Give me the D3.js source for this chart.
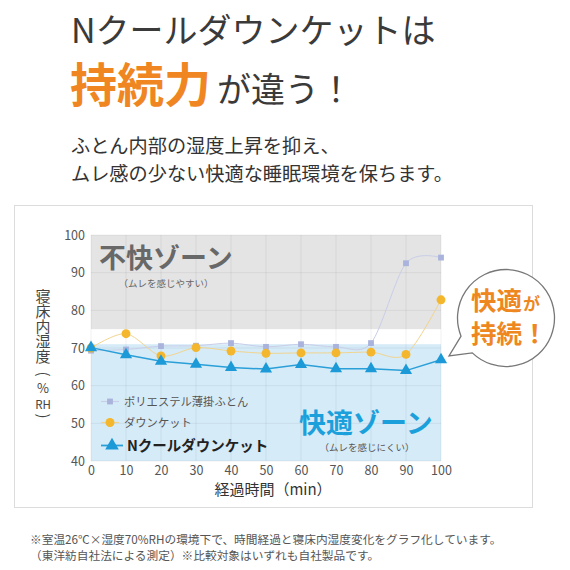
<!DOCTYPE html>
<html lang="ja">
  <head>
    <meta charset="UTF-8" />
    <title>Nクールダウンケット - 寝床内湿度</title>
    <script src="https://cdn.jsdelivr.net/npm/d3@7"></script>
    <style>
      body { margin: 0; background: #fff; }
      svg text { font-family: "Noto Sans CJK JP", "Noto Sans", sans-serif; }
      .vtext { writing-mode: vertical-rl; text-orientation: upright; }
    </style>
  </head>
  <body>
    <svg id="chart" width="570" height="570"></svg>

    <script>
      // data
      var minutes = [0, 10, 20, 30, 40, 50, 60, 70, 80, 90, 100];
      var polyester = [69.3, 69.6, 70.5, 70.6, 71.3, 70.3, 71.0, 70.3, 71.3, 92.5, 94.0];
      var downKet = [70.0, 73.8, 67.9, 70.1, 69.2, 68.6, 68.7, 68.7, 68.9, 68.3, 82.8];
      var nCool = [70.1, 68.2, 66.5, 65.7, 64.8, 64.4, 65.6, 64.5, 64.5, 64.0, 66.9];
      var yTicks = [40, 50, 60, 70, 80, 90, 100];
      var xTicks = [0, 10, 20, 30, 40, 50, 60, 70, 80, 90, 100];
      var discomfortZone = [75, 100];
      var comfortZone = [40, 71];
      var seriesNames = ["ポリエステル薄掛ふとん", "ダウンケット", "Nクールダウンケット"];
      var yTitleWord = "寝床内湿度";
      var yTitleUnit = ["%", "RH"];

      var svg = d3.select("#chart");

      var x = d3.scaleLinear().domain([0, 100]).range([91, 441]);
      var y = d3.scaleLinear().domain([40, 100]).range([461, 235]);

      // headings
      svg.append("text").attr("x", 71).attr("y", 43)
        .attr("font-size", 34).attr("fill", "#3a3a3a")
        .text("Nクールダウンケットは");
      svg.append("text").attr("x", 70).attr("y", 102)
        .attr("font-size", 47).attr("font-weight", 700).attr("fill", "#ef8622")
        .text("持続力");
      svg.append("text").attr("x", 217).attr("y", 102)
        .attr("font-size", 34).attr("fill", "#3a3a3a")
        .text("が違う！");
      svg.append("text").attr("x", 71).attr("y", 153)
        .attr("font-size", 19.2).attr("fill", "#333")
        .text("ふとん内部の湿度上昇を抑え、");
      svg.append("text").attr("x", 71).attr("y", 181)
        .attr("font-size", 19.2).attr("fill", "#333")
        .text("ムレ感の少ない快適な睡眠環境を保ちます。");

      // card
      svg.append("rect").attr("x", 14.5).attr("y", 205.5)
        .attr("width", 518).attr("height", 302)
        .attr("fill", "#fff").attr("stroke", "#dcdcdc");

      // zones
      svg.append("rect")
        .attr("x", x(0)).attr("width", x(100) - x(0))
        .attr("y", y(discomfortZone[1]))
        .attr("height", y(discomfortZone[0]) - y(discomfortZone[1]))
        .attr("fill", "#e4e4e4");
      svg.append("rect")
        .attr("x", x(0)).attr("width", x(100) - x(0))
        .attr("y", y(comfortZone[1]))
        .attr("height", y(comfortZone[0]) - y(comfortZone[1]))
        .attr("fill", "#d5ebf8");

      // grid
      var grid = svg.append("g").attr("stroke", "rgba(0,0,0,0.06)");
      grid.selectAll(".gx").data(xTicks).enter().append("line")
        .attr("x1", d => x(d)).attr("x2", d => x(d))
        .attr("y1", y(100)).attr("y2", y(40));
      grid.selectAll(".gy").data(yTicks).enter().append("line")
        .attr("x1", x(0)).attr("x2", x(100))
        .attr("y1", d => y(d)).attr("y2", d => y(d));

      // axes
      var yAxis = svg.append("g").attr("transform", "translate(" + (x(0) - 6) + ",0)")
        .call(d3.axisLeft(y).tickValues(yTicks).tickSize(0).tickPadding(0));
      var xAxis = svg.append("g").attr("transform", "translate(0," + (y(40) + 2) + ")")
        .call(d3.axisBottom(x).tickValues(xTicks).tickSize(0).tickPadding(0));
      [yAxis, xAxis].forEach(function (ax) {
        ax.select(".domain").remove();
        ax.selectAll("text")
          .attr("font-family", "'Noto Sans', sans-serif")
          .attr("font-size", 12.5).attr("fill", "#555");
      });
      xAxis.selectAll("text").attr("dy", "0.95em");

      // axis titles
      svg.append("text").attr("x", 273).attr("y", 495)
        .attr("text-anchor", "middle").attr("font-size", 15).attr("fill", "#333")
        .text("経過時間（min）");
      // vertical y title, parens turned sideways as in vertical writing
      svg.append("text").attr("class", "vtext").attr("x", 43).attr("y", 289)
        .attr("font-size", 15).attr("fill", "#444").text(yTitleWord);
      svg.append("text").attr("transform", "translate(43,374) rotate(90)")
        .attr("text-anchor", "middle").attr("dy", "0.33em")
        .attr("font-family", "'Noto Sans', sans-serif")
        .attr("font-size", 15).attr("fill", "#444").text("(");
      svg.append("text").attr("x", 43).attr("y", 393)
        .attr("text-anchor", "middle").attr("font-size", 13).attr("fill", "#444")
        .attr("font-family", "'Noto Sans', sans-serif").text(yTitleUnit[0]);
      svg.append("text").attr("x", 43).attr("y", 409)
        .attr("text-anchor", "middle").attr("font-size", 11.5).attr("fill", "#444")
        .attr("font-family", "'Noto Sans', sans-serif").text(yTitleUnit[1]);
      svg.append("text").attr("transform", "translate(43,416) rotate(90)")
        .attr("text-anchor", "middle").attr("dy", "0.33em")
        .attr("font-family", "'Noto Sans', sans-serif")
        .attr("font-size", 15).attr("fill", "#444").text(")");

      // zone labels
      svg.append("text").attr("x", 99).attr("y", 268)
        .attr("font-size", 27).attr("font-weight", 700).attr("fill", "#686868")
        .text("不快ゾーン");
      svg.append("text").attr("x", 166).attr("y", 286.5)
        .attr("text-anchor", "middle").attr("font-size", 9.5).attr("fill", "#666")
        .text("（ムレを感じやすい）");
      svg.append("text").attr("x", 299).attr("y", 433)
        .attr("font-size", 27).attr("font-weight", 700).attr("fill", "#1ca0dc")
        .text("快適ゾーン");
      svg.append("text").attr("x", 367).attr("y", 450.5)
        .attr("text-anchor", "middle").attr("font-size", 9.5).attr("fill", "#555")
        .text("（ムレを感じにくい）");

      // series
      var series = [
        { values: polyester, line: "#c9cee8", mark: "#a9b3db", symbol: d3.symbolSquare, size: 34,
          width: 1, curve: d3.curveCardinal.tension(0.1) },
        { values: downKet, line: "#f2d48e", mark: "#f4b62c", symbol: d3.symbolCircle, size: 62,
          width: 1, curve: d3.curveCardinal.tension(0.1) },
        { values: nCool, line: "#2a9fd8", mark: "#1b9ad7", symbol: d3.symbolTriangle, size: 64,
          width: 1.5, curve: d3.curveLinear }
      ];

      series.forEach(function (s) {
        var line = d3.line()
          .x((d, i) => x(minutes[i]))
          .y(d => y(d))
          .curve(s.curve);
        svg.append("path").datum(s.values)
          .attr("d", line).attr("fill", "none")
          .attr("stroke", s.line).attr("stroke-width", s.width);
      });
      series.forEach(function (s) {
        svg.append("g").selectAll("path").data(s.values).enter().append("path")
          .attr("d", d3.symbol().type(s.symbol).size(s.size))
          .attr("transform", (d, i) => "translate(" + x(minutes[i]) + "," + y(d) + ")")
          .attr("fill", s.mark);
      });

      // legend
      var legendY = [401.5, 422.5, 445.5];
      series.forEach(function (s, i) {
        var g = svg.append("g").attr("transform", "translate(0," + legendY[i] + ")");
        g.append("line").attr("x1", 101).attr("x2", i === 2 ? 123 : 119)
          .attr("stroke", s.line).attr("stroke-width", i === 2 ? 1.8 : 1.2);
        g.append("path")
          .attr("d", d3.symbol().type(s.symbol).size(i === 2 ? 80 : s.size))
          .attr("transform", "translate(" + (i === 2 ? 112 : 110) + ",0)")
          .attr("fill", s.mark);
        g.append("text").attr("x", i === 2 ? 127 : 124).attr("dy", "0.36em")
          .attr("font-size", i === 2 ? 14.5 : 11.3)
          .attr("font-weight", i === 2 ? 700 : 400)
          .attr("fill", i === 2 ? "#222" : "#555")
          .text(seriesNames[i]);
      });

      // callout bubble
      var cx = 506, cy = 318, r = 48.5;
      var a1 = (158 * Math.PI) / 180, a2 = (134 * Math.PI) / 180;
      var bubble = d3.path();
      bubble.moveTo(cx + r * Math.cos(a1), cy + r * Math.sin(a1));
      bubble.arc(cx, cy, r, a1, a2 + 2 * Math.PI, false);
      bubble.lineTo(449, 356);
      bubble.closePath();
      svg.append("path").attr("d", bubble.toString())
        .attr("fill", "#fff").attr("stroke", "#777").attr("stroke-width", 1.3);
      svg.append("text").attr("x", 471).attr("y", 310)
        .attr("font-size", 25.5).attr("font-weight", 700).attr("fill", "#ee8720")
        .text("快適");
      svg.append("text").attr("x", 523).attr("y", 310)
        .attr("font-size", 17).attr("font-weight", 700).attr("fill", "#ee8720")
        .text("が");
      svg.append("text").attr("x", 471).attr("y", 343)
        .attr("font-size", 25.5).attr("font-weight", 700).attr("fill", "#ee8720")
        .text("持続！");

      // footnote
      svg.append("text").attr("x", 30).attr("y", 544)
        .attr("font-size", 11.7).attr("fill", "#555")
        .text("※室温26℃×湿度70%RHの環境下で、時間経過と寝床内湿度変化をグラフ化しています。");
      svg.append("text").attr("x", 30).attr("y", 560)
        .attr("font-size", 11.7).attr("fill", "#555")
        .text("（東洋紡自社法による測定）※比較対象はいずれも自社製品です。");
    </script>
  </body>
</html>
